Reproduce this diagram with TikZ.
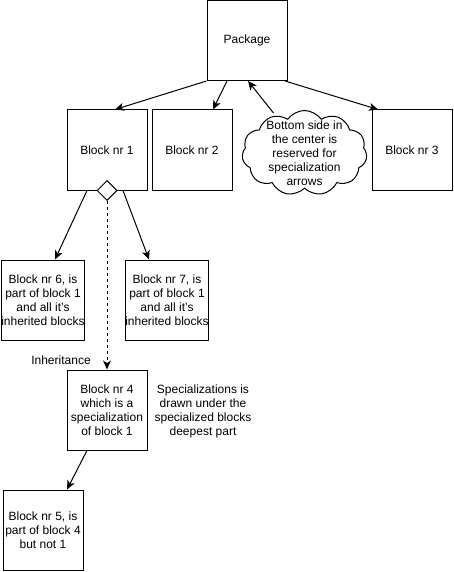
\documentclass[tikz,border=0pt]{standalone}
\usepackage{fontspec}
\setmainfont{Liberation Sans}
\usetikzlibrary{shapes.geometric,shapes.symbols,arrows.meta}
\begin{document}
\begin{tikzpicture}[x=1pt,y=-1pt,
  font=\fontsize{12}{14}\selectfont,
  box/.style={draw, line width=1pt, minimum width=80pt, minimum height=80pt, align=center, inner sep=0pt},
  arr/.style={line width=1pt, -{Stealth[length=9pt,width=8pt,inset=2.5pt]}},
  plain/.style={align=center, inner sep=0pt}]
\useasboundingbox (0,0) rectangle (453,572);
\node[box] (pkg) at (247,40.5) {Package};
\node[box] (b1) at (107,150) {Block nr 1};
\node[box] (b2) at (192,150) {Block nr 2};
\node[box] (b3) at (412,150) {Block nr 3};
\node[cloud, draw, line width=1pt, cloud puffs=11, cloud puff arc=110, aspect=1.5,
      minimum width=125pt, minimum height=85pt, align=center, inner sep=-11pt] (cl) at (304.5,153)
      {Bottom side in\\the center is\\reserved for\\specialization\\arrows};
\node[box] (b6) at (43,300) {Block nr 6, is\\part of block 1\\and all it's\\inherited blocks};
\node[box] (b7) at (167,300) {Block nr 7, is\\part of block 1\\and all it's\\inherited blocks};
\node[box] (b4) at (107,410) {Block nr 4\\which is a\\specialization\\of block 1};
\node[box] (b5) at (43,530) {Block nr 5, is\\part of block 4\\but not 1};
\node[plain] (spec) at (203,411) {Specializations is\\drawn under the\\specialized blocks\\deepest part};
\node[plain] (inh) at (61,360) {Inheritance};
\node[draw, line width=1pt, diamond, aspect=1, minimum size=20pt, inner sep=0pt, fill=white] (dia) at (b1.south) {};
\draw[arr] (pkg.south west) -- ([xshift=8pt]b1.north);
\draw[arr] ([xshift=-20pt]pkg.south) -- ([xshift=21pt]b2.north);
\draw[arr] ([xshift=-31pt,yshift=-3pt]cl.north) -- ([xshift=1pt]pkg.south);
\draw[arr] ([xshift=38pt]pkg.south) -- ([xshift=-34pt]b3.north);
\draw[arr] ([xshift=-20pt]b1.south) -- ([xshift=12pt]b6.north);
\draw[arr] ([xshift=16pt]b1.south) -- ([xshift=-18pt]b7.north);
\draw[arr, dash pattern=on 3pt off 3pt] (dia.south) -- (b4.north);
\draw[arr] ([xshift=-20pt]b4.south) -- ([xshift=24pt]b5.north);
\end{tikzpicture}
\end{document}
